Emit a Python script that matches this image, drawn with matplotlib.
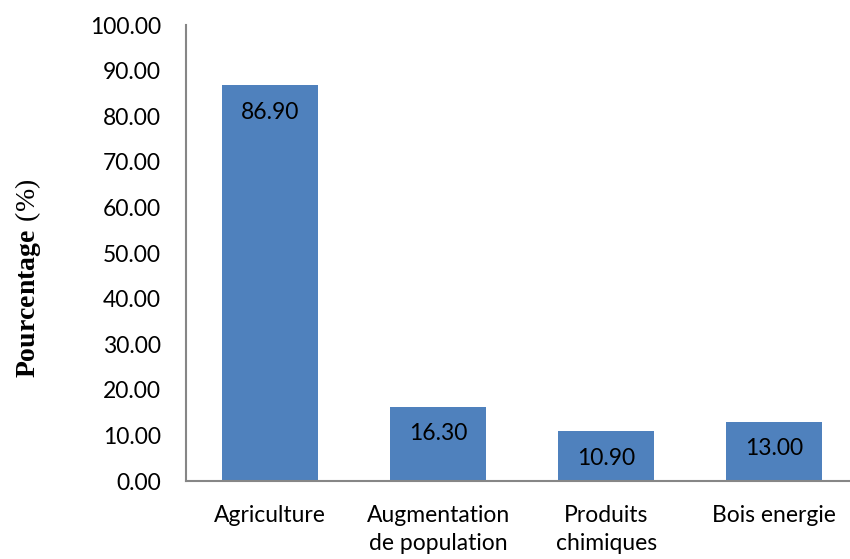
import matplotlib.pyplot as plt
import numpy as np

# donnees
categories = ["Agriculture", "Augmentation\nde population", "Produits\nchimiques", "Bois energie"]
valeurs = [86.90, 16.30, 10.90, 13.00]
yticks = np.arange(0, 101, 10)

plt.rcParams['mathtext.fontset'] = 'custom'
plt.rcParams['mathtext.rm'] = 'Liberation Serif'
plt.rcParams['mathtext.bf'] = 'Liberation Serif:bold'

fig = plt.figure(figsize=(8.5, 5.59), dpi=100)
ax = fig.add_axes([0.219, 0.1395, 0.781, 0.8155])

x = np.arange(len(categories))
barres = ax.bar(x, valeurs, width=0.57, color="#4F81BD")

for b, v in zip(barres, valeurs):
    ax.annotate("%.2f" % v, (b.get_x() + b.get_width() / 2, v),
                xytext=(0, -12), textcoords="offset points",
                ha="center", va="top", fontsize=16.5, family="Lato")

ax.set_xlim(-0.5, 3.45)
ax.set_ylim(0, 100)
ax.set_yticks(yticks)
ax.set_yticklabels(["%.2f" % t for t in yticks], fontsize=16.5, family="Lato")
ax.set_xticks(x)
ax.set_xticklabels(categories, fontsize=16.5, family="Lato", linespacing=1.45)
ax.tick_params(length=0)
ax.tick_params(axis="y", pad=18)
ax.tick_params(axis="x", pad=17)

for s in ["top", "right"]:
    ax.spines[s].set_visible(False)
for s in ["left", "bottom"]:
    ax.spines[s].set_color("#868686")
    ax.spines[s].set_linewidth(1.5)

ax.set_ylabel(r"$\mathbf{Pourcentage}$ $\mathrm{(\%)}$", fontsize=20)
ax.yaxis.set_label_coords(-0.215, 0.445)

fig.savefig("out.png", dpi=100)
